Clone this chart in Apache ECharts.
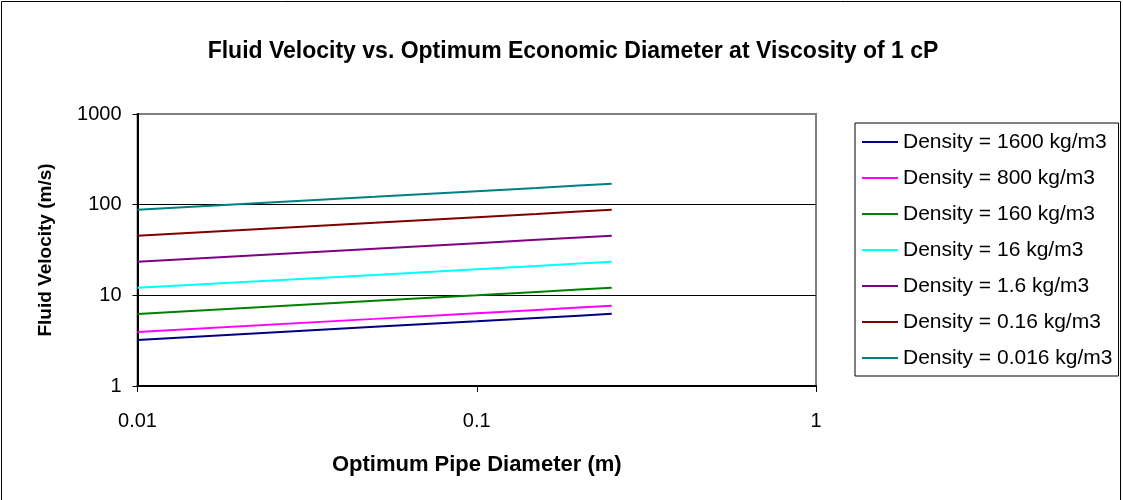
<!DOCTYPE html>
<html>
<head>
<meta charset="utf-8">
<title>Fluid Velocity vs. Optimum Economic Diameter</title>
<script src="https://cdn.jsdelivr.net/npm/echarts@6/dist/echarts.min.js"></script>
<style>
  html, body { margin: 0; padding: 0; background: #fff; }
  #chart { width: 1123px; height: 500px; }
</style>
</head>
<body>
<div id="chart"></div>
<script>
// Optimum pipe diameter (m) at which velocities were evaluated
const diameters = [0.01, 0.05, 0.1, 0.15, 0.2, 0.25];

// Fluid velocity (m/s) for each fluid density, viscosity 1 cP
const rho1600  = [3.22, 4.49, 5.17, 5.63, 5.97, 6.25];
const rho800   = [3.95, 5.50, 6.35, 6.90, 7.32, 7.67];
const rho160   = [6.24, 8.69, 10.0, 10.9, 11.6, 12.1];
const rho16    = [12.1, 16.8, 19.4, 21.1, 22.4, 23.4];
const rho1_6   = [23.4, 32.6, 37.6, 40.9, 43.4, 45.4];
const rho0_16  = [45.3, 63.1, 72.8, 79.1, 84.0, 87.9];
const rho0_016 = [87.7, 122, 141, 153, 163, 170];

const seriesNames = [
  'Density = 1600 kg/m3',
  'Density = 800 kg/m3',
  'Density = 160 kg/m3',
  'Density = 16 kg/m3',
  'Density = 1.6 kg/m3',
  'Density = 0.16 kg/m3',
  'Density = 0.016 kg/m3'
];
const seriesValues = [rho1600, rho800, rho160, rho16, rho1_6, rho0_16, rho0_016];
const seriesColors = ['#000080', '#FF00FF', '#008000', '#00FFFF', '#800080', '#800000', '#008080'];

const FONT = 'Arial, "Liberation Sans", Helvetica, sans-serif';

const chart = echarts.init(document.getElementById('chart'), null, { renderer: 'canvas' });

const series = seriesNames.map((name, i) => ({
  name: name,
  type: 'line',
  data: diameters.map((d, j) => [d, seriesValues[i][j]]),
  symbol: 'none',
  showSymbol: false,
  smooth: false,
  lineStyle: { color: seriesColors[i], width: 2 },
  itemStyle: { color: seriesColors[i] },
  emphasis: { disabled: true }
}));

chart.setOption({
  animation: false,
  backgroundColor: '#ffffff',
  textStyle: { fontFamily: FONT },
  title: {
    text: 'Fluid Velocity vs. Optimum Economic Diameter at Viscosity of 1 cP',
    left: 568,
    textAlign: 'center',
    top: 35,
    textStyle: { fontFamily: FONT, fontSize: 23, fontWeight: 'bold', color: '#000' }
  },
  graphic: [{
    type: 'rect',
    shape: { x: 1.5, y: 1.5, width: 1119, height: 530 },
    style: { fill: 'none', stroke: '#000', lineWidth: 1 },
    silent: true,
    z: 100
  }],
  legend: {
    orient: 'vertical',
    left: 855,
    top: 123,
    padding: [8, 6, 7, 7],
    icon: 'rect',
    itemWidth: 36,
    itemHeight: 2,
    itemGap: 14,
    borderColor: '#000',
    borderWidth: 1,
    backgroundColor: '#fff',
    selectedMode: false,
    data: seriesNames,
    textStyle: { fontFamily: FONT, fontSize: 21, lineHeight: 22, color: '#000' }
  },
  grid: {
    left: 137.5,
    right: 307,
    top: 114,
    bottom: 114,
    show: true,
    borderColor: '#808080',
    borderWidth: 2,
    backgroundColor: 'transparent'
  },
  xAxis: {
    type: 'log',
    logBase: 10,
    min: 0.01,
    max: 1,
    name: 'Optimum Pipe Diameter (m)',
    nameLocation: 'middle',
    nameGap: 68,
    nameTextStyle: { fontFamily: FONT, fontSize: 22, fontWeight: 'bold', color: '#000' },
    axisLine: { show: true, onZero: false, lineStyle: { color: '#000', width: 2 } },
    axisTick: { show: true, inside: false, length: 6, lineStyle: { color: '#000', width: 1 } },
    minorTick: { show: false },
    splitLine: { show: false },
    axisLabel: {
      margin: 25,
      fontFamily: FONT,
      fontSize: 20,
      color: '#000',
      formatter: v => String(+v.toPrecision(6))
    }
  },
  yAxis: {
    type: 'log',
    logBase: 10,
    min: 1,
    max: 1000,
    name: 'Fluid Velocity (m/s)',
    nameLocation: 'middle',
    nameGap: 82,
    nameRotate: 90,
    nameTextStyle: { fontFamily: FONT, fontSize: 19, fontWeight: 'bold', color: '#000' },
    axisLine: { show: true, lineStyle: { color: '#000', width: 2 } },
    axisTick: { show: true, inside: false, length: 5, lineStyle: { color: '#000', width: 1 } },
    minorTick: { show: false },
    splitLine: { show: true, lineStyle: { color: ['#000', '#000', '#000', '#808080'], width: 1 } },
    axisLabel: {
      margin: 16,
      fontFamily: FONT,
      fontSize: 20,
      color: '#000',
      formatter: v => String(+v.toPrecision(6))
    }
  },
  series: series
});
</script>
</body>
</html>
